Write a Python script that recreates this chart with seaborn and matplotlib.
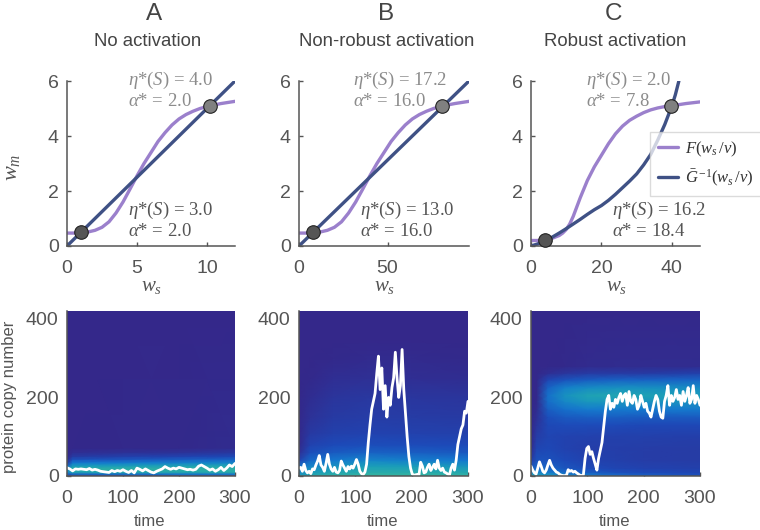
"""Nullclines and protein copy number heatmaps for three activation regimes."""

import numpy as np
import pandas as pd
import matplotlib
matplotlib.use('Agg')
import matplotlib.pyplot as plt
from matplotlib.colors import LinearSegmentedColormap
import seaborn as sns

# -- curves --
ws_a = [0, .5, 1, 1.5, 2, 2.5, 3, 3.5, 4, 4.5, 5, 5.5, 6, 6.5, 7, 7.5, 8, 8.5, 9, 9.5, 10, 10.5, 11, 11.5, 12]
ws_b = [0, 4, 8, 12, 16, 20, 24, 28, 32, 36, 40, 44, 48, 52, 56, 60, 64, 68, 72, 76, 80, 84, 88, 92, 96]
f_ab = [.47, .47, .48, .51, .57, .68, .88, 1.2, 1.6, 2.07, 2.55, 3.0, 3.4, 3.8, 4.12, 4.4, 4.62, 4.78, 4.9, 5.0,
        5.07, 5.13, 5.18, 5.22, 5.26]
g_a_x = [0, 12]
g_b_x = [0, 96]
g_ab = [0, 6]

ws_c = [0, 2, 4, 6, 8, 9, 10, 11, 12, 13, 14, 16, 18, 20, 22, 24, 26, 28, 30, 32, 34, 36, 38, 40, 42, 44, 46, 48]
f_c = [.2, .2, .22, .28, .38, .47, .6, .8, 1.08, 1.42, 1.76, 2.38, 2.88, 3.3, 3.72, 4.08, 4.36, 4.57, 4.72, 4.85,
       4.95, 5.02, 5.07, 5.1, 5.14, 5.18, 5.21, 5.24]
g_c_x = [0, 2, 4, 6, 8, 10, 12, 14, 16, 18, 20, 22, 24, 26, 28, 30, 32, 34, 36, 38, 40, 41, 42]
g_c = [0, .08, .2, .32, .47, .63, .8, .97, 1.15, 1.32, 1.47, 1.66, 1.88, 2.12, 2.36, 2.62, 2.95, 3.33, 3.85, 4.42,
       5.09, 5.5, 6.0]

# stable points
pts_x = [[1.0, 10.2], [7.8, 81.0], [3.9, 39.8]]
pts_y = [[.5, 5.1], [.5, 5.1], [.22, 5.1]]

# -- annotations --
letters = ['A', 'B', 'C']
titles = ['No activation', 'Non-robust activation', 'Robust activation']
upper_eta = ['4.0', '17.2', '2.0']
upper_alpha = ['2.0', '16.0', '7.8']
lower_eta = ['3.0', '13.0', '16.2']
lower_alpha = ['2.0', '16.0', '18.4']
x_ticks_top = [[0, 5, 10], [0, 50], [0, 20, 40]]
x_max_top = [12, 96, 48]
y_ticks_top = [0, 2, 4, 6]
time_ticks = [0, 100, 200, 300]
copy_ticks = [0, 200, 400]

# -- heatmaps --
hm_a_t = [0, 10, 100, 200, 300]
hm_a_v = [0, 4, 10, 18, 26, 34, 42, 50, 60, 72, 420]
hm_a = [[.10, .10, .10, .10, .10],
        [.30, .35, .40, .45, .45],
        [.55, .78, .82, .82, .84],
        [.70, .88, .90, .90, .90],
        [.40, .72, .74, .78, .80],
        [.12, .50, .52, .55, .58],
        [.02, .30, .32, .36, .40],
        [0, .14, .18, .20, .24],
        [0, .05, .07, .08, .12],
        [0, 0, .01, .01, .03],
        [0, 0, 0, 0, 0]]

hm_b_t = [0, 20, 60, 120, 200, 300]
hm_b_v = [0, 10, 25, 40, 60, 80, 110, 150, 200, 250, 300, 350, 420]
hm_b = [[.75, .85, .90, .95, .95, .92],
        [.60, .72, .80, .85, .85, .82],
        [.45, .58, .66, .75, .73, .68],
        [.20, .42, .50, .58, .54, .50],
        [.05, .28, .34, .38, .36, .33],
        [.01, .20, .25, .27, .26, .25],
        [0, .13, .18, .20, .19, .18],
        [0, .08, .14, .16, .15, .14],
        [0, .04, .10, .12, .11, .10],
        [0, .01, .05, .06, .05, .04],
        [0, 0, .01, .02, .02, .01],
        [0, 0, 0, 0, 0, 0],
        [0, 0, 0, 0, 0, 0]]

hm_c_t = [0, 10, 30, 60, 100, 150, 200, 300]
hm_c_v = [0, 10, 20, 40, 70, 100, 130, 150, 170, 190, 205, 225, 245, 262, 280, 420]
hm_c = [[.80, .78, .72, .60, .55, .45, .38, .30],
        [.55, .55, .52, .42, .35, .28, .25, .22],
        [.35, .42, .40, .32, .26, .22, .20, .18],
        [.15, .30, .30, .25, .20, .18, .16, .15],
        [.02, .22, .24, .20, .17, .17, .16, .15],
        [0, .16, .22, .20, .19, .18, .18, .17],
        [0, .10, .24, .26, .26, .26, .24, .24],
        [0, .06, .28, .34, .36, .36, .34, .34],
        [0, .03, .36, .46, .52, .52, .50, .52],
        [0, .01, .44, .60, .70, .70, .68, .66],
        [0, 0, .45, .66, .78, .80, .78, .72],
        [0, 0, .38, .55, .62, .65, .65, .62],
        [0, 0, .22, .30, .35, .38, .38, .40],
        [0, 0, .05, .10, .14, .14, .14, .18],
        [0, 0, 0, .01, .02, .03, .03, .03],
        [0, 0, 0, 0, 0, 0, 0, 0]]

# -- single cell trajectories --
traj_a = [21, 18, 13, 18, 17, 18, 17, 16, 19, 15, 17, 15, 12, 11, 10, 9, 14, 11, 14, 12, 16, 12, 9, 14, 8, 20, 17,
          13, 18, 14, 10, 8, 12, 15, 18, 24, 20, 17, 20, 18, 22, 20, 18, 16, 17, 15, 17, 25, 28, 24, 20, 15, 18, 12,
          16, 22, 14, 20, 28, 24, 32]
traj_b = [20, 22, 12, 30, 14, 8, 12, 6, 18, 16, 28, 38, 52, 28, 22, 12, 32, 55, 30, 18, 12, 22, 10, 8, 14, 38, 28,
          20, 12, 24, 18, 25, 20, 30, 42, 30, 12, 6, 4, 10, 30, 85, 130, 170, 190, 210, 260, 305, 220, 275, 170, 230,
          150, 200, 180, 225, 250, 315, 250, 200, 230, 322, 220, 160, 100, 50, 20, 5, 2, 3, 4, 3, 35, 25, 8, 10, 22,
          30, 14, 22, 30, 18, 40, 20, 14, 20, 10, 8, 5, 2, 20, 30, 15, 40, 80, 100, 120, 130, 165, 160, 190]
traj_c = [25, 15, 8, 5, 20, 36, 25, 12, 8, 15, 28, 40, 28, 20, 15, 10, 8, 4, 2, 1, 1, 2, 16, 12, 14, 10, 12, 8, 5, 2,
          1, 3, 45, 70, 75, 55, 62, 45, 30, 15, 45, 65, 85, 125, 165, 195, 205, 170, 185, 175, 195, 185, 200, 210,
          190, 205, 210, 180, 215, 190, 185, 205, 195, 170, 180, 205, 190, 175, 185, 165, 160, 150, 170, 190, 205,
          195, 165, 150, 147, 190, 205, 230, 180, 205, 190, 200, 220, 195, 205, 180, 215, 190, 205, 225, 185, 195,
          230, 185, 205, 195, 180]

sns.set_style('ticks')
plt.rcParams['font.family'] = ['Liberation Sans', 'DejaVu Sans']
plt.rcParams['mathtext.fontset'] = 'custom'
plt.rcParams['mathtext.rm'] = 'Liberation Serif'
plt.rcParams['mathtext.it'] = 'Liberation Serif:italic'
plt.rcParams['mathtext.bf'] = 'Liberation Serif:bold'

PURPLE = '#9b80cc'
NAVY = '#3f5185'
GRAY = '#555555'
W, H = 760, 530
parula = LinearSegmentedColormap.from_list(
    'parula_low', ['#34288a', '#1d49b8', '#1478cf', '#1b9fb8', '#3cbb98'])

fig = plt.figure(figsize=(W / 100, H / 100), dpi=100)


def px_axes(left, right, top, bottom):
    return fig.add_axes([left / W, 1 - bottom / H, (right - left) / W, (bottom - top) / H])


def px_text(x, y, s, **kw):
    fig.text(x / W, 1 - y / H, s, va='center', **kw)


def style_axes(ax):
    sns.despine(ax=ax)
    for side in ['left', 'bottom']:
        ax.spines[side].set_color(GRAY)
        ax.spines[side].set_linewidth(1.1)
    ax.tick_params(direction='in', length=3, width=1, color=GRAY, labelcolor=GRAY, labelsize=14)
    ax.tick_params(axis='x', pad=10)
    ax.tick_params(axis='y', pad=6)


top_lefts = [67, 299, 531]
top_rights = [235, 469, 700]
curves = [(ws_a, f_ab, g_a_x, g_ab), (ws_b, f_ab, g_b_x, g_ab), (ws_c, f_c, g_c_x, g_c)]
heatmaps = [(hm_a_t, hm_a_v, hm_a), (hm_b_t, hm_b_v, hm_b), (hm_c_t, hm_c_v, hm_c)]
trajs = [traj_a, traj_b, traj_c]
letter_x = [154, 386, 613]
title_x = [148, 387, 615]
upper_x = [128, 353, 586]
lower_x = [128, 360, 612]

for i in range(3):
    # nullclines
    ax = px_axes(top_lefts[i], top_rights[i], 81, 246)
    fx, fy, gx, gy = curves[i]
    sns.lineplot(x=fx, y=fy, color=PURPLE, lw=2.4, ax=ax, label=r'$F(w_s\,/v)$', sort=False, errorbar=None)
    sns.lineplot(x=gx, y=gy, color=NAVY, lw=2.4, ax=ax, label=r'$\bar{G}^{\,\mathrm{-1}}(w_s\,/v)$',
                 sort=False, errorbar=None)
    sns.scatterplot(x=pts_x[i][:1], y=pts_y[i][:1], s=95, color='#555555', edgecolor='#222222', linewidth=0.8,
                    ax=ax, zorder=5, clip_on=False, legend=False)
    sns.scatterplot(x=pts_x[i][1:], y=pts_y[i][1:], s=95, color='#808080', edgecolor='#222222', linewidth=0.8,
                    ax=ax, zorder=5, clip_on=False, legend=False)
    ax.set_xlim(0, x_max_top[i])
    ax.set_ylim(0, 6)
    ax.set_xticks(x_ticks_top[i])
    ax.set_yticks(y_ticks_top)
    style_axes(ax)
    if i == 2:
        leg = ax.legend(loc='upper left', bbox_to_anchor=(650 / W, 1 - 132 / H), bbox_transform=fig.transFigure,
                        frameon=True, fontsize=12, borderpad=0.45, labelspacing=0.55, handlelength=1.2,
                        handletextpad=0.45, borderaxespad=0, fancybox=False)
        leg.get_frame().set_edgecolor('#cfcfcf')
        leg.get_frame().set_alpha(0.75)
        leg.set_zorder(10)
        for t in leg.get_texts():
            t.set_color('#333333')
    else:
        ax.get_legend().remove()

    center = (top_lefts[i] + top_rights[i]) / 2
    px_text(center + 1, 286, r'$w_s$', ha='center', fontsize=15, color=GRAY)

    # labels over the nullclines
    px_text(letter_x[i], 14, letters[i], ha='center', fontsize=17.5, color='#444444')
    px_text(title_x[i], 42, titles[i], ha='center', fontsize=13.4, color='#444444')
    serif = dict(ha='left', fontsize=13.5, family='Liberation Serif')
    px_text(upper_x[i], 80, r'$\eta$*$(S)$ = ' + upper_eta[i], color='#8c8c8c', **serif)
    px_text(upper_x[i], 102, r'$\alpha$* = ' + upper_alpha[i], color='#8c8c8c', **serif)
    px_text(lower_x[i], 210, r'$\eta$*$(S)$ = ' + lower_eta[i], color='#555555', **serif)
    px_text(lower_x[i], 232, r'$\alpha$* = ' + lower_alpha[i], color='#555555', **serif)

    # density plus one trajectory
    ax = px_axes(top_lefts[i], top_rights[i] - (1 if i == 1 else 0), 311, 476)
    t, v, c = heatmaps[i]
    ax.pcolormesh(t, v, np.array(c), shading='gouraud', cmap=parula, vmin=0, vmax=1)
    traj = pd.DataFrame({'time': np.linspace(0, 300, len(trajs[i])), 'copies': trajs[i]})
    sns.lineplot(data=traj, x='time', y='copies', color='white', lw=2.0, ax=ax, errorbar=None)
    ax.set_xlim(0, 300)
    ax.set_ylim(0, 420)
    ax.set_xticks(time_ticks)
    ax.set_yticks(copy_ticks)
    ax.set_xlabel('')
    ax.set_ylabel('')
    style_axes(ax)
    px_text(center - 1, 521, 'time', ha='center', fontsize=12, color=GRAY)

px_text(11, 167, r'$w_m$', ha='center', fontsize=16, color=GRAY, rotation=90)
px_text(10, 397, 'protein copy number', ha='center', fontsize=12, color=GRAY, rotation=90)

fig.savefig('out.png', dpi=100)
